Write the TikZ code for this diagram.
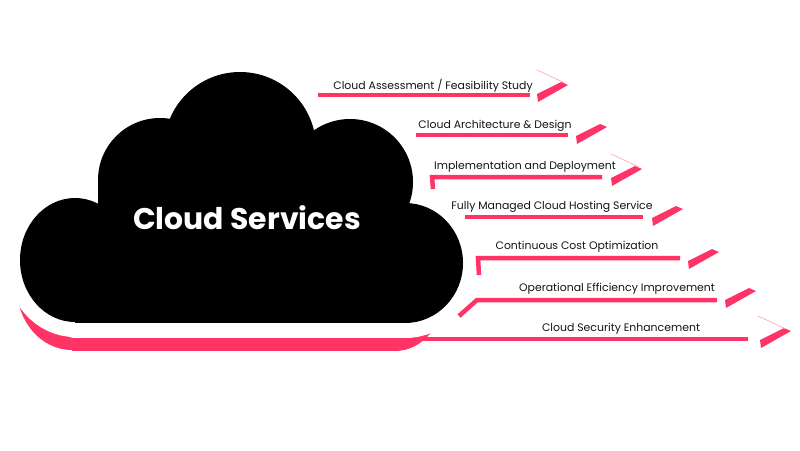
\documentclass[tikz,border=0pt]{standalone}
\usepackage{fontspec}
\setmainfont{Poppins}
\definecolor{cloudpink}{HTML}{FF3366}
\definecolor{lightpink}{HTML}{FFA8BE}
\definecolor{itemgray}{HTML}{141414}

\begin{document}
\begin{tikzpicture}[
    x=0.02cm, y=-0.02cm,
    itemtext/.style={
        text=itemgray,
        font=\fontsize{6.2}{7.5}\selectfont,
        inner sep=0pt
    },
    title/.style={
        text=white,
        font=\fontsize{17}{20}\selectfont\bfseries,
        inner sep=0pt
    },
    underline/.style={
        cloudpink,
        line width=0.09cm
    },
    tipbar/.style={
        fill=cloudpink
    },
    tipedge/.style={
        lightpink,
        line width=0.4pt
    },
    halo/.style={
        fill=white,
        draw=white,
        line width=0.6cm,
        line join=round
    }
]
\useasboundingbox (0,0) rectangle (800,450);

\def\cloudshape#1{
    \path[#1] (75,260) ellipse[x radius=55, y radius=62];
    \path[#1] (160,180) circle[radius=62];
    \path[#1] (240,148) circle[radius=76];
    \path[#1] (350,182) circle[radius=63];
    \path[#1] (405,263) ellipse[x radius=58, y radius=60];
    \path[#1] (98,182) rectangle (405,323);
    \path[#1] (75,262) rectangle (405,323);
}

% Pink shadow under the cloud
\begin{scope}[shift={(-3,28)}]
    \fill[cloudpink] (75,260) ellipse[x radius=55, y radius=62];
    \fill[cloudpink] (398,263) ellipse[x radius=50, y radius=60];
    \fill[cloudpink] (75,262) rectangle (398,323);
\end{scope}
\draw[underline] (422,339) -- (748,339);

% White halo, then the cloud itself
\cloudshape{halo}
\cloudshape{fill=black}
\node[title] (services) at (247,218) {Cloud Services};

% Underlines
\draw[underline] (318,95) -- (530,95);
\draw[underline] (416,135) -- (568,135);
\draw[underline] (433,189) -- (432,177) -- (602,177);
\draw[underline] (465,217) -- (643,217);
\draw[underline] (479,275) -- (478,258) -- (680,258);
\draw[underline] (459,316) -- (477,300) -- (717,300);

% Arrow tips
\foreach \L/\T in {537/94, 576/136, 611/178, 652/218, 688/261, 725/300, 760/340}{
    \fill[tipbar] (\L,\T) -- (\L+24,\T-12) -- (\L+31,\T-9) -- (\L+1,\T+8) -- cycle;
}
\foreach \L/\T in {537/94, 611/178, 758/340}{
    \draw[tipedge] (\L,\T-24) -- (\L+28,\T-11);
}

% Service labels
\node[itemtext] (assess) at (433,85.5) {Cloud Assessment / Feasibility Study};
\node[itemtext] (archi) at (495,125.5) {Cloud Architecture \& Design};
\node[itemtext] (deploy) at (525,166.5) {Implementation and Deployment};
\node[itemtext] (hosting) at (552,206.5) {Fully Managed Cloud Hosting Service};
\node[itemtext] (cost) at (577,246.5) {Continuous Cost Optimization};
\node[itemtext] (ops) at (617,288.5) {Operational Efficiency Improvement};
\node[itemtext] (security) at (621,328.5) {Cloud Security Enhancement};
\end{tikzpicture}
\end{document}
